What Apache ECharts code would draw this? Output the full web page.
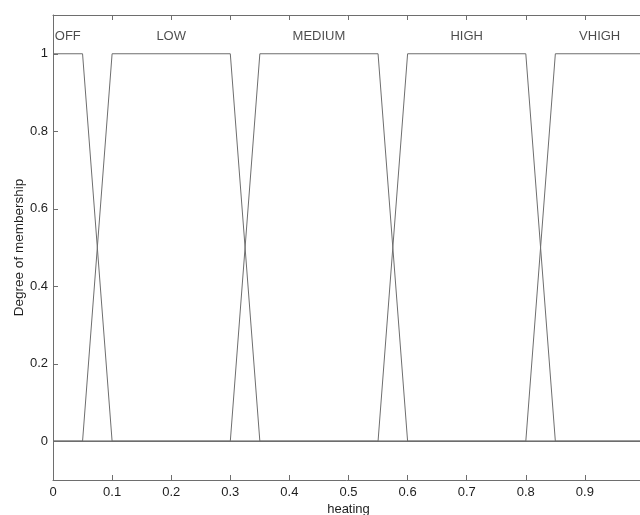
<!DOCTYPE html>
<html><head><meta charset="utf-8">
<script src="https://cdn.jsdelivr.net/npm/echarts@6/dist/echarts.min.js"></script>
<style>html,body{margin:0;padding:0;background:#fff}#c{width:640px;height:515px}</style>
</head><body><div id="c"></div>
<script>
// membership function names and trapezoid breakpoints
const mfNames = ['OFF','LOW','MEDIUM','HIGH','VHIGH'];
const mfOFF    = [[0,1],[0.05,1],[0.1,0],[1,0]];
const mfLOW    = [[0,0],[0.05,0],[0.1,1],[0.3,1],[0.35,0],[1,0]];
const mfMEDIUM = [[0,0],[0.3,0],[0.35,1],[0.55,1],[0.6,0],[1,0]];
const mfHIGH   = [[0,0],[0.55,0],[0.6,1],[0.8,1],[0.85,0],[1,0]];
const mfVHIGH  = [[0,0],[0.8,0],[0.85,1],[1,1]];
const labelX = [0.025, 0.2, 0.45, 0.7, 0.925];
const labelY = [1.046, 1.046, 1.046, 1.046, 1.046];
const yTicks = [0, 0.2, 0.4, 0.6, 0.8, 1];
const xTicksMin = 0, xTicksMax = 1, xInterval = 0.1;

const lineColor = '#6e6e6e';
const axisColor = '#6e6e6e';
const textColor = '#1e1e1e';
const font = 'Liberation Sans, Arial, sans-serif';
const fs = 13;

const mfs = [mfOFF, mfLOW, mfMEDIUM, mfHIGH, mfVHIGH];
const series = mfs.map((d, i) => ({
  type: 'line', name: mfNames[i], data: d, symbol: 'none', silent: true,
  lineStyle: {color: lineColor, width: 1}, animation: false
}));
series.push({
  type: 'scatter', symbolSize: 0, silent: true, animation: false,
  data: labelX.map((x, i) => ({value: [x, labelY[i]], name: mfNames[i]})),
  label: {show: true, position: 'inside', formatter: p => p.name,
    color: textColor, fontFamily: font, fontSize: fs}
});

const chart = echarts.init(document.getElementById('c'), null, {renderer: 'canvas'});
chart.setOption({
  backgroundColor: '#fff',
  animation: false,
  grid: {left: 53, top: 15, right: -4, bottom: 35, containLabel: false, outerBoundsMode: 'none'},
  xAxis: [{
    type: 'value', min: xTicksMin, max: xTicksMax, interval: xInterval, position: 'bottom',
    name: 'heating', nameLocation: 'middle', nameGap: 23, nameMoveOverlap: false,
    nameTextStyle: {color: textColor, fontFamily: font, fontSize: fs},
    axisLine: {show: true, onZero: false, lineStyle: {color: axisColor, width: 1}},
    axisTick: {show: true, inside: true, length: 5, lineStyle: {color: axisColor}},
    axisLabel: {color: textColor, fontFamily: font, fontSize: fs, margin: 6, showMaxLabel: false,
      formatter: v => (v === 0 ? '0' : (v >= 1 ? '' : (+v).toFixed(1)))},
    splitLine: {show: false}
  }, {
    type: 'value', min: xTicksMin, max: xTicksMax, interval: xInterval, position: 'top',
    axisLine: {show: true, onZero: false, lineStyle: {color: axisColor, width: 1}},
    axisTick: {show: true, inside: true, length: 5, lineStyle: {color: axisColor}},
    axisLabel: {show: false}, splitLine: {show: false}
  }],
  yAxis: [{
    type: 'value', min: -0.1, max: 1.1, position: 'left',
    name: 'Degree of membership', nameLocation: 'middle', nameGap: 27, nameRotate: 90,
    nameMoveOverlap: false,
    nameTextStyle: {color: textColor, fontFamily: font, fontSize: 13.5},
    axisLine: {show: true, onZero: false, lineStyle: {color: axisColor, width: 1}},
    axisTick: {show: true, inside: true, length: 5, customValues: yTicks, lineStyle: {color: axisColor}},
    axisLabel: {color: textColor, fontFamily: font, fontSize: fs, margin: 5, customValues: yTicks,
      formatter: v => (v === 0 || v === 1 ? String(v) : (+v).toFixed(1))},
    splitLine: {show: false}
  }],
  series: series
});
</script></body></html>
